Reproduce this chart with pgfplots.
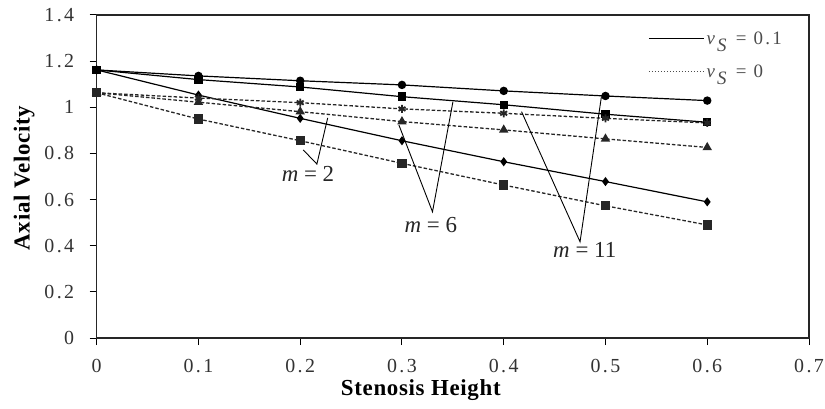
\documentclass[border=0pt]{standalone}
\usepackage{fontspec}
\setmainfont{Liberation Serif}
\newfontfamily\tickfont[LetterSpace=12]{Liberation Serif}
\newfontfamily\labfont[LetterSpace=3]{Liberation Serif}
\usepackage{pgfplots}
\usepackage{pgfplotstable}
\pgfplotsset{compat=1.18}
\pgfplotstableread{
x   s1    s2    s3    d1    d2    d3
0   1.162 1.162 1.162 1.063 1.063 1.063
0.1 1.136 1.120 1.053 1.040 1.022 0.949
0.2 1.115 1.088 0.952 1.020 0.981 0.855
0.3 1.097 1.046 0.855 0.993 0.938 0.757
0.4 1.071 1.011 0.764 0.974 0.902 0.663
0.5 1.049 0.970 0.678 0.952 0.863 0.573
0.6 1.029 0.935 0.590 0.932 0.826 0.490
}\data
\begin{document}
\begin{tikzpicture}
\begin{axis}[
  scale only axis, width=712.3bp, height=323bp,
  xmin=0, xmax=0.7, ymin=0, ymax=1.4,
  xtick={0,0.1,0.2,0.3,0.4,0.5,0.6,0.7},
  ytick={0,0.2,0.4,0.6,0.8,1,1.2,1.4},
  tick align=outside, tick pos=left, major tick length=7bp,
  tick style={black, line width=1bp},
  axis line style={black!85, line width=1.2bp},
  /pgf/number format/assume math mode=true,
  ticklabel style={font=\tickfont\fontsize{20}{20}\selectfont, text=black!80},
  xticklabel style={yshift=-11bp},
  yticklabel shift=12bp,
  xlabel={\bfseries Stenosis Height},
  ylabel={\bfseries Axial Velocity},
  xlabel style={at={(axis description cs:0.455,-0.161)}, anchor=center, font=\labfont\fontsize{23}{23}\selectfont},
  ylabel style={at={(axis description cs:-0.102,0.495)}, anchor=center, font=\labfont\fontsize{23}{23}\selectfont},
  legend style={draw=none, fill=none, at={(axis description cs:0.77,0.962)}, anchor=north west,
    font=\tickfont\fontsize{19}{19}\selectfont, row sep=15bp, text=black!70},
  legend cell align=left,
  legend image code/.code={\draw[#1] (0bp,0bp) -- (55bp,0bp);},
]
\addplot[forget plot, black, line width=1.2bp, mark=*, mark size=3.6bp] table[x=x,y=s1]{\data};
\addplot[forget plot, black, line width=1.2bp, mark=square*, mark size=3.6bp] table[x=x,y=s2]{\data};
\addplot[forget plot, black, line width=1.2bp, mark=diamond*, mark size=3.6bp] table[x=x,y=s3]{\data};
\addplot[forget plot, black!85, line width=1.3bp, dash pattern=on 3.5bp off 2bp, mark=asterisk, mark size=4bp, mark options={solid, line width=1.8bp}] table[x=x,y=d1]{\data};
\addplot[forget plot, black!85, line width=1.3bp, dash pattern=on 3.5bp off 2bp, mark=triangle*, mark size=4.2bp, mark options={solid}] table[x=x,y=d2]{\data};
\addplot[forget plot, black!85, line width=1.3bp, dash pattern=on 3.5bp off 2bp, mark=square*, mark size=4bp, mark options={solid}] table[x=x,y=d3]{\data};
\draw[line width=0.9bp] (axis cs:0.203,0.815) -- (axis cs:0.2164,0.754) -- (axis cs:0.227,0.954);
\draw[line width=0.9bp] (axis cs:0.297,0.923) -- (axis cs:0.330,0.547) -- (axis cs:0.350,1.022);
\draw[line width=0.9bp] (axis cs:0.4175,0.981) -- (axis cs:0.475,0.417) -- (axis cs:0.496,1.046);
\node[font=\fontsize{23}{23}\selectfont, text=black!85] at (axis cs:0.2076,0.711) {\textit{m} = 2};
\node[font=\fontsize{23}{23}\selectfont, text=black!85] at (axis cs:0.3284,0.490) {\textit{m} = 6};
\node[font=\fontsize{23}{23}\selectfont, text=black!85] at (axis cs:0.4796,0.381) {\textit{m} = 11};
\addlegendimage{black, line width=1.2bp}
\addlegendentry{\textit{v}\raisebox{-0.4em}{\textit{S}} = 0.1}
\addlegendimage{black!70, dotted, line width=1bp}
\addlegendentry{\textit{v}\raisebox{-0.4em}{\textit{S}} = 0}
\end{axis}
\pgfresetboundingbox
\useasboundingbox (-96.7bp,-71bp) rectangle (728.3bp,338bp);
\end{tikzpicture}
\end{document}
